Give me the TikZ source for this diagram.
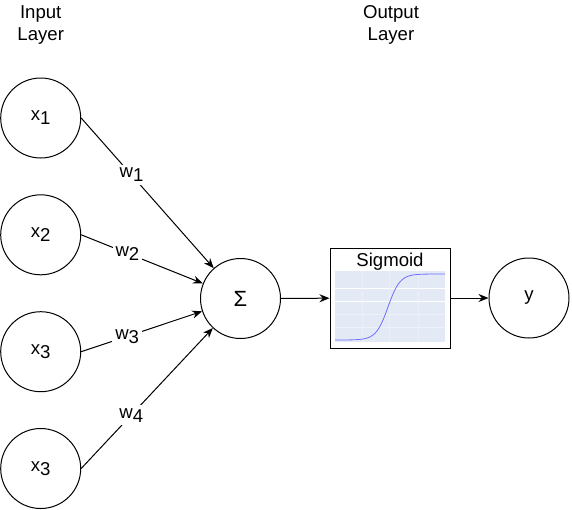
\documentclass[tikz,border=0pt]{standalone}
\usepackage{fontspec}
\setmainfont{Liberation Sans}
\usetikzlibrary{arrows.meta,positioning,shadows}
\definecolor{plotbg}{HTML}{E4EAF5}
\definecolor{curveblue}{HTML}{6E6EFF}

\begin{document}
\begin{tikzpicture}[x=0.5pt,y=-0.5pt,
  neuron/.style={circle,draw,line width=0.5pt,minimum size=40pt,inner sep=0pt,font=\fontsize{9.3}{11}\selectfont},
  layertitle/.style={align=center,font=\fontsize{9.3}{10.7}\selectfont},
  weight/.style={fill=white,inner sep=1.5pt,font=\fontsize{9.3}{11}\selectfont},
  actbox/.style={draw,fill=white,line width=0.5pt,minimum width=60pt,minimum height=50pt,
    drop shadow={shadow xshift=0.6pt,shadow yshift=-0.6pt,opacity=0.35}},
  conn/.style={line width=0.5pt,-{Stealth[length=5pt,width=4pt]}}]
\newcommand*{\lowsub}[1]{\raisebox{-2pt}{#1}}
\useasboundingbox (0,0) rectangle (572,509);

% titles
\node[layertitle] (inputtitle) at (40.7,25) {Input\\Layer};
\node[layertitle] (outputtitle) at (391,25) {Output\\Layer};

% input layer
\foreach \i/\n/\yy in {1/1/118,2/2/234.8,3/3/351.7,4/3/468.5}
  \node[neuron] (x\i) at (40.7,\yy) {x\lowsub{\n}};

\node[neuron,font=\fontsize{11}{13}\selectfont] (sum) at (240.5,298.5) {Σ};

% activation box with a small plot
\node[actbox] (act) at (390,298) {};
\fill[plotbg] (335,271) rectangle (445,342);
\foreach \gy in {288,301}
  \draw[white,line width=0.5pt] (335,\gy) -- (445,\gy);
\foreach \gy in {314,327}
  \draw[white!35!plotbg,line width=0.4pt] (335,\gy) -- (445,\gy);
\foreach \gx in {362,389,418}
  \draw[white!25!plotbg,line width=0.4pt] (\gx,271) -- (\gx,342);
\draw[curveblue,line width=0.4pt,domain=335:445,samples=90]
  plot (\x,{340-66/(1+exp(-(\x-388)/6))});
\node[font=\fontsize{9.3}{10.7}\selectfont] (acttitle) at (390,262) {Sigmoid};

\node[neuron] (out) at (529,298) {y};

% connections
\foreach \i in {1,...,4}
  \draw[conn] (x\i.east) -- node[weight,pos=0.38] (w\i) {w\lowsub{\i}} (sum);
\draw[conn] (sum) -- (act);
\draw[conn] (act) -- (out);
\end{tikzpicture}
\end{document}
